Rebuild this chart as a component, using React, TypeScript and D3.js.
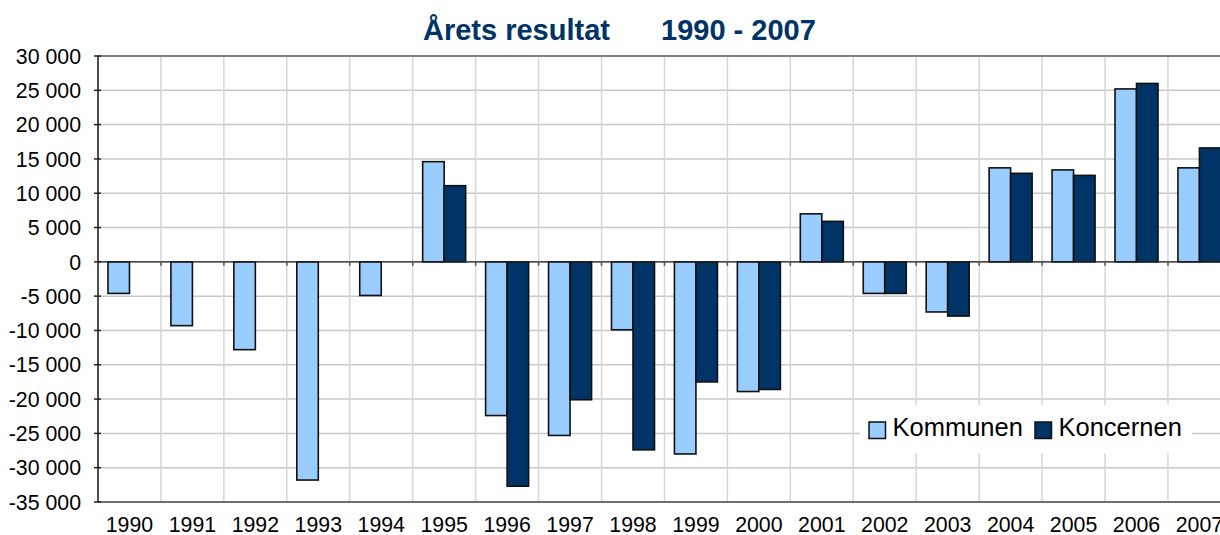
import React from "react";
import * as d3 from "d3";

const years = ["1990","1991","1992","1993","1994","1995","1996","1997","1998","1999","2000","2001","2002","2003","2004","2005","2006","2007"];
const kommunen = [-4600, -9300, -12800, -31800, -4900, 14600, -22400, -25300, -9900, -28000, -18900, 7000, -4600, -7300, 13700, 13400, 25200, 13700];
const koncernen: (number | null)[] = [null, null, null, null, null, 11100, -32700, -20100, -27400, -17500, -18600, 5900, -4600, -7900, 12900, 12600, 26000, 16600];
const yTicks = [30000, 25000, 20000, 15000, 10000, 5000, 0, -5000, -10000, -15000, -20000, -25000, -30000, -35000];
const seriesNames = ["Kommunen", "Koncernen"];
const colors = ["#99ccff", "#003366"];

const W = 1220, H = 535;
const left = 98, top = 56, bottom = 502;
const band = 62.94;
const right = left + band * years.length;

export default function App() {
  const x = d3.scaleBand<string>().domain(years).range([left, right]).paddingInner(0).paddingOuter(0);
  const y = d3.scaleLinear().domain([-35000, 30000]).range([bottom, top]);
  const barW = 21.5;
  const fmt = (v: number) => {
    const s = d3.format(",")(Math.abs(v)).replace(/,/g, " ");
    return (v < 0 ? "-" : "") + s;
  };
  const font = "'Liberation Sans', Arial, sans-serif";
  const y0 = y(0);
  return (
    <svg width={W} height={H} style={{ position: "absolute", left: 0, top: 0, background: "#fff" }} fontFamily={font}>
      <rect x={0} y={0} width={W} height={H} fill="#fff" />
      {/* grid */}
      {yTicks.map((t) => (
        <line key={"h" + t} x1={left} x2={right} y1={y(t)} y2={y(t)} stroke="#c8c8c8" strokeWidth={1.5} />
      ))}
      {years.map((yr, i) => i > 0 && (
        <line key={"v" + yr} x1={x(yr)!} x2={x(yr)!} y1={top} y2={bottom} stroke="#d6d6d6" strokeWidth={1.5} />
      ))}
      {/* frame */}
      <line x1={left} x2={right} y1={top} y2={top} stroke="#808080" strokeWidth={2} />
      <line x1={left} x2={right} y1={bottom} y2={bottom} stroke="#707070" strokeWidth={2} />
      {/* bars */}
      {years.map((yr, i) => {
        const cx = x(yr)! + x.bandwidth() / 2;
        const vals = [kommunen[i], koncernen[i]];
        return vals.map((v, j) => {
          if (v === null || v === undefined) return null;
          const bx = cx - barW + j * barW;
          const yTop = Math.min(y(v), y0);
          const h = Math.abs(y(v) - y0);
          return (
            <rect key={yr + j} x={bx} y={yTop} width={barW} height={h} fill={colors[j]} stroke="#111" strokeWidth={1.6} />
          );
        });
      })}
      {/* zero line and ticks */}
      <line x1={left} x2={right} y1={y0} y2={y0} stroke="#222" strokeWidth={1.2} />
      {years.map((yr) => (
        <line key={"zt" + yr} x1={x(yr)!} x2={x(yr)!} y1={y0} y2={y0 + 4} stroke="#555" strokeWidth={1.5} />
      ))}
      {/* y axis */}
      <line x1={left} x2={left} y1={top} y2={bottom} stroke="#505050" strokeWidth={2} />
      {yTicks.map((t) => (
        <g key={"yt" + t}>
          <line x1={left - 4} x2={left + 3} y1={y(t)} y2={y(t)} stroke="#222" strokeWidth={1.5} />
          <text x={81} y={y(t)} dy="0.36em" textAnchor="end" fontSize={21.3} fill="#000">{fmt(t)}</text>
        </g>
      ))}
      {/* x labels */}
      {years.map((yr) => (
        <text key={"xl" + yr} x={x(yr)! + x.bandwidth() / 2} y={532} textAnchor="middle" fontSize={21.3} fill="#000">{yr}</text>
      ))}
      {/* title */}
      <text x={423} y={40} fontSize={29} fontWeight="bold" fill="#003366">Årets resultat</text>
      <text x={661} y={40} fontSize={29} fontWeight="bold" fill="#003366">1990 - 2007</text>
      {/* legend */}
      <rect x={860} y={405} width={332} height={48} fill="#fff" />
      {seriesNames.map((n, j) => {
        const lx = j === 0 ? 869 : 1035;
        return (
          <g key={n}>
            <rect x={lx} y={422} width={16.5} height={16.5} fill={colors[j]} stroke="#111" strokeWidth={1.5} />
            <text x={lx + 23.5} y={436} fontSize={25.5} fill="#000">{n}</text>
          </g>
        );
      })}
    </svg>
  );
}
